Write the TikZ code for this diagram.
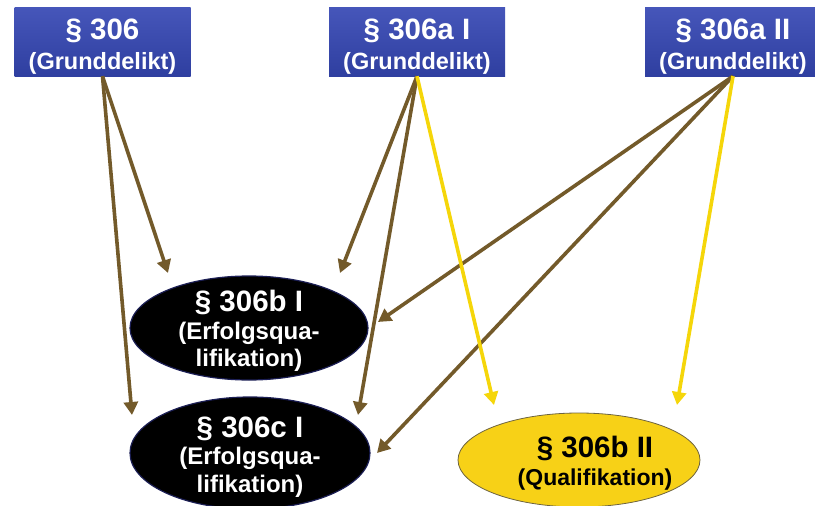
\documentclass[tikz,border=0pt]{standalone}
\usepackage{fontspec}
\setmainfont{Liberation Sans}
\usetikzlibrary{arrows.meta,calc,shapes.geometric}

\definecolor{boxtop}{HTML}{4656BA}
\definecolor{boxbot}{HTML}{2F3FA0}
\definecolor{linkbrown}{HTML}{735A2A}
\definecolor{linkyellow}{HTML}{F5D60A}
\definecolor{qualyellow}{HTML}{F7D117}
\definecolor{qualedge}{HTML}{6E6440}
\definecolor{erfedge}{HTML}{1C1F55}

% first (larger) line of a label; the strut lowers the text block in its box
\newcommand{\parline}[2][0pt]{{\bfseries\fontsize{29.5}{30}\selectfont\rule{0pt}{#1}#2}}

\begin{document}
\begin{tikzpicture}[x=1pt,y=-1pt,
  grund/.style={rectangle, minimum width=176pt, minimum height=69pt, inner sep=0pt,
    top color=boxtop, bottom color=boxbot, text=white, align=center,
    font=\bfseries\fontsize{23.5}{30}\selectfont},
  erfolg/.style={ellipse, inner sep=0pt, fill=black, draw=erfedge, line width=1.2pt},
  qual/.style={ellipse, inner sep=0pt, fill=qualyellow, draw=qualedge, line width=0.8pt},
  etext/.style={align=center, inner sep=0pt, font=\bfseries\fontsize{24}{27.5}\selectfont},
  brownlink/.style={draw=linkbrown, line width=3.6pt,
    -{Triangle[length=13pt,width=14pt]}},
  yellowlink/.style={draw=linkyellow, line width=3.6pt,
    -{Triangle[length=13pt,width=14pt]}}]

\useasboundingbox (0,0) rectangle (815,506);
\clip (0,0) rectangle (815,506);

% basic offences
\node[grund] (b1) at (102.5,41.5) {\parline[30pt]{§ 306}\\(Grunddelikt)};
\node[grund] (b2) at (417,41.5) {\parline[30pt]{§ 306a I}\\(Grunddelikt)};
\node[grund] (b3) at (733,41.5) {\parline[30pt]{§ 306a II}\\(Grunddelikt)};

% aggravated forms
\node[erfolg, minimum width=238pt, minimum height=104pt] (e1) at (249,328) {};
\node[etext, text=white] (e1t) at (249,331) {\parline{§ 306b I}\\(Erfolgsqua-\\lifikation)};

\node[erfolg, minimum width=240pt, minimum height=112pt] (e2) at (250,453) {};
\node[etext, text=white] (e2t) at (250,457) {\parline{§ 306c I}\\(Erfolgsqua-\\lifikation)};

\node[qual, minimum width=242pt, minimum height=94pt] (e3) at (579,460) {};
\node[etext, text=black, font=\bfseries\fontsize{23}{28}\selectfont] (e3t) at (595,463) {\parline{§ 306b II}\\(Qualifikation)};

% arrow tips just outside the ellipses
\coordinate (e1a) at ($(e1.center)+(-81,-55)$);
\coordinate (e1b) at ($(e1.center)+(91,-55)$);
\coordinate (e1c) at ($(e1.center)+(129,-6)$);
\coordinate (e2a) at ($(e2.center)+(-118,-38)$);
\coordinate (e2b) at ($(e2.center)+(108,-38)$);
\coordinate (e2c) at ($(e2.center)+(127,0)$);
\coordinate (e3a) at ($(e3.center)+(-85,-55)$);
\coordinate (e3b) at ($(e3.center)+(98,-55)$);

% links
\draw[brownlink] (b1.south) -- (e1a);
\draw[brownlink] (b1.south) -- (e2a);
\draw[brownlink] (b2.south) -- (e1b);
\draw[brownlink] (b2.south) -- (e2b);
\draw[brownlink] (b3.south) -- (e1c);
\draw[brownlink] (b3.south) -- (e2c);
\draw[yellowlink] (b2.south) -- (e3a);
\draw[yellowlink] (b3.south) -- (e3b);
\end{tikzpicture}
\end{document}
